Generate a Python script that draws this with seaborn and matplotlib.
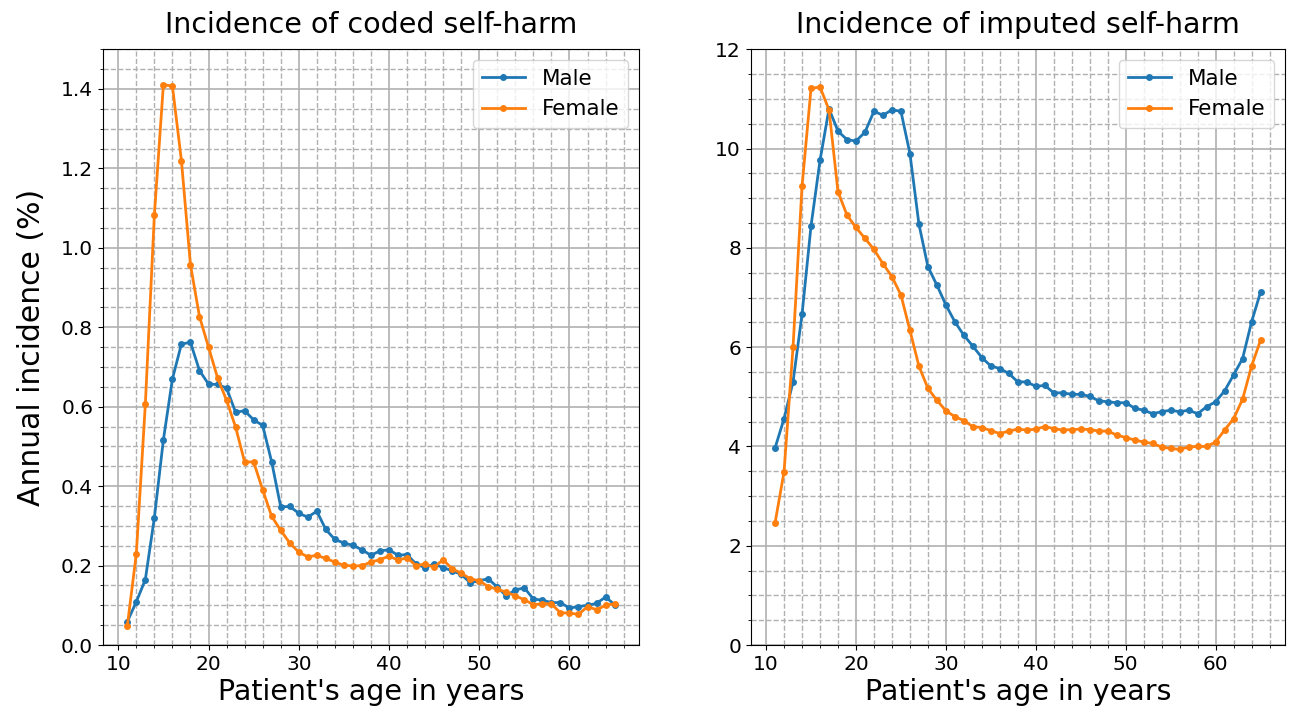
import numpy as np
import pandas as pd
import matplotlib
matplotlib.use("Agg")
import matplotlib.pyplot as plt
import seaborn as sns
from matplotlib.ticker import AutoMinorLocator

ages = list(range(11, 66))

coded_male = [0.059, 0.109, 0.165, 0.321, 0.517, 0.670, 0.758, 0.762, 0.691, 0.657,
              0.656, 0.647, 0.586, 0.590, 0.567, 0.553, 0.461, 0.348, 0.349, 0.332,
              0.322, 0.337, 0.291, 0.266, 0.257, 0.251, 0.240, 0.226, 0.237, 0.240,
              0.226, 0.228, 0.204, 0.195, 0.204, 0.195, 0.187, 0.178, 0.157, 0.162,
              0.167, 0.146, 0.124, 0.139, 0.144, 0.116, 0.113, 0.107, 0.107, 0.093,
              0.097, 0.100, 0.105, 0.121, 0.102]
coded_female = [0.048, 0.230, 0.607, 1.083, 1.411, 1.407, 1.219, 0.957, 0.827, 0.750,
                0.673, 0.616, 0.549, 0.461, 0.461, 0.391, 0.324, 0.289, 0.257, 0.234,
                0.222, 0.226, 0.218, 0.209, 0.201, 0.199, 0.200, 0.209, 0.215, 0.224,
                0.214, 0.220, 0.200, 0.204, 0.196, 0.215, 0.192, 0.181, 0.167, 0.162,
                0.147, 0.141, 0.133, 0.124, 0.114, 0.102, 0.104, 0.104, 0.081, 0.081,
                0.077, 0.097, 0.089, 0.100, 0.104]

imputed_male = [3.97, 4.56, 5.30, 6.66, 8.44, 9.76, 10.80, 10.35, 10.18, 10.15,
                10.33, 10.75, 10.67, 10.78, 10.75, 9.90, 8.48, 7.62, 7.25, 6.85,
                6.51, 6.24, 6.02, 5.79, 5.62, 5.57, 5.47, 5.30, 5.30, 5.21,
                5.23, 5.08, 5.08, 5.05, 5.05, 5.01, 4.92, 4.90, 4.88, 4.88,
                4.77, 4.73, 4.66, 4.70, 4.73, 4.70, 4.73, 4.66, 4.80, 4.90,
                5.12, 5.44, 5.77, 6.51, 7.11]
imputed_female = [2.46, 3.49, 6.00, 9.24, 11.21, 11.24, 10.78, 9.13, 8.66, 8.41,
                  8.19, 7.97, 7.68, 7.42, 7.05, 6.34, 5.62, 5.17, 4.93, 4.72,
                  4.60, 4.52, 4.40, 4.38, 4.32, 4.26, 4.31, 4.35, 4.33, 4.35,
                  4.40, 4.36, 4.33, 4.34, 4.35, 4.34, 4.31, 4.31, 4.23, 4.18,
                  4.13, 4.09, 4.06, 3.99, 3.96, 3.94, 3.99, 4.00, 4.00, 4.09,
                  4.33, 4.56, 4.95, 5.62, 6.14]

sexes = ["Male", "Female"]
colors = ["#1f77b4", "#ff7f0e"]


def make_df(male, female):
    return pd.DataFrame({
        "age": ages + ages,
        "inc": male + female,
        "sex": ["Male"] * len(ages) + ["Female"] * len(ages),
    })


fig = plt.figure(figsize=(12.9, 7.24), dpi=100)
ax1 = fig.add_axes([0.0798, 0.109, 0.4155, 0.823])
ax2 = fig.add_axes([0.582, 0.109, 0.414, 0.823])

panels = [
    (ax1, make_df(coded_male, coded_female), "Incidence of coded self-harm", 1.5),
    (ax2, make_df(imputed_male, imputed_female), "Incidence of imputed self-harm", 12),
]

for ax, df, title, ytop in panels:
    sns.lineplot(data=df, x="age", y="inc", hue="sex", hue_order=sexes,
                 palette=colors, marker="o", markersize=5, markeredgewidth=0,
                 linewidth=2, ax=ax)
    ax.set_ylim(0, ytop)
    ax.minorticks_on()
    ax.xaxis.set_minor_locator(AutoMinorLocator(5))
    ax.yaxis.set_minor_locator(AutoMinorLocator(4))
    ax.grid(which="major", color="#b0b0b0", linewidth=1.2)
    ax.grid(which="minor", color="#b0b0b0", linestyle="--", linewidth=1)
    ax.set_axisbelow(True)
    ax.set_title(title, fontsize=20.5, pad=11.5)
    ax.set_xlabel("Patient's age in years", fontsize=20.5, labelpad=3)
    ax.set_ylabel("")
    ax.tick_params(labelsize=14.5)
    handles, labels = ax.get_legend_handles_labels()
    ax.legend(handles, labels, loc="upper right", fontsize=15.5)

ax1.set_ylabel("Annual incidence (%)", fontsize=21.5, labelpad=11)

fig.savefig("out.png", dpi=100)
